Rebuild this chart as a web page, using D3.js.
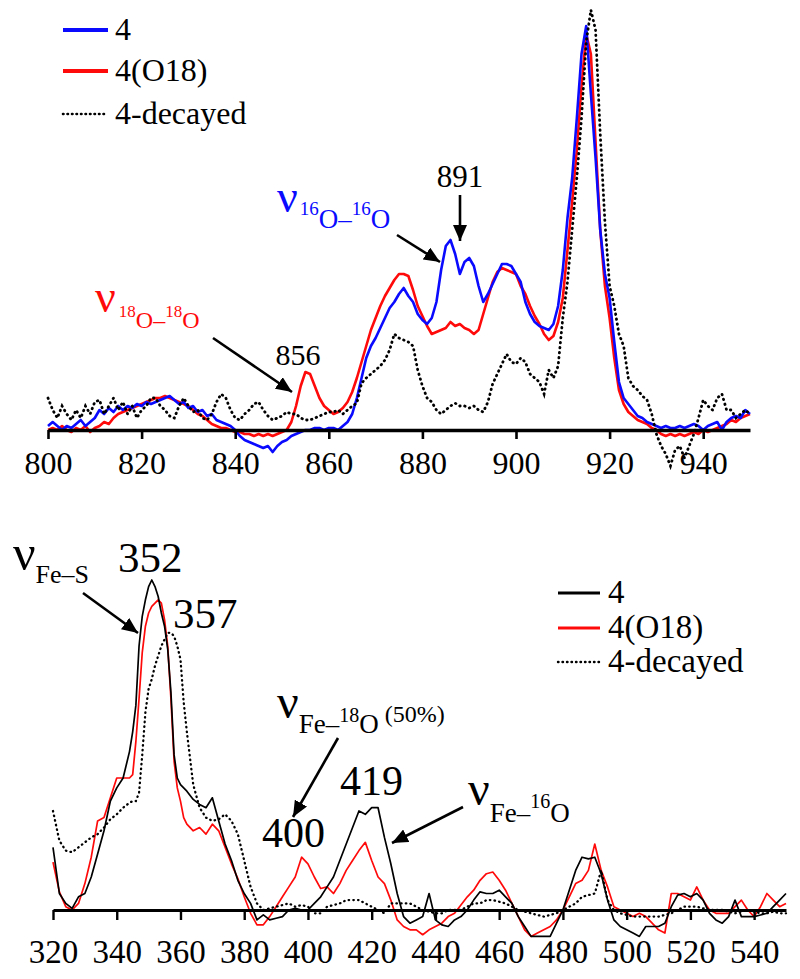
<!DOCTYPE html>
<html><head><meta charset="utf-8">
<script src="https://cdn.jsdelivr.net/npm/d3@7"></script>
<style>
body{margin:0;background:#fff}
svg{display:block}
svg text, svg tspan{font-family:"Liberation Serif","DejaVu Serif","Noto Serif","Times New Roman",serif !important;}
</style>
</head><body>
<svg id="c" width="800" height="979"></svg>
<script>
// ---------- DATA: top panel (O–O stretch region) ----------
const topShift = [800,801,802,803,804,805,806,807,808,809,810,811,812,813,814,815,816,817,818,819,
820,821,822,823,824,825,826,827,828,829,830,831,832,833,834,835,836,837,838,839,
840,841,842,843,844,845,846,847,848,849,850,851,852,853,854,855,856,857,858,859,
860,861,862,863,864,865,866,867,868,869,870,871,872,873,874,875,876,877,878,879,
880,881,882,883,884,885,886,887,888,889,890,891,892,893,894,895,896,897,898,899,
900,901,902,903,904,905,906,907,908,909,910,911,912,913,914,915,916,917,918,919,
920,921,922,923,924,925,926,927,928,929,930,931,932,933,934,935,936,937,938,939,
940,941,942,943,944,945,946,947,948,949,950];
const top4 = [1,2,1,0,1,0.5,1.5,2.5,1,2,
3,5,4,5.5,4.5,6,5,6,5.5,6.5,
6,7,6.5,7,7.5,8,8.5,7.5,6.5,7,
5.5,6,4.5,5,3.5,4,2.5,2,1.5,1,
0,-1.5,-2.5,-3,-3.5,-4,-4.5,-4,-5.5,-4,
-3,-2.5,-1.5,-1,-0.5,0,0,0.5,0.5,0,
0.5,0.5,0,1,2,4,8,13,18,21,
23,25.5,28,30.5,32,34,35.5,33.5,32,29,
27.5,26.5,28,32,40,46,47.5,44,39,42,
43,41,36,32,34,36.5,39,41.5,41.5,41,
39,37,32,29,27,26,25.5,25,26.5,31,
40,53,63,78,94,101,84,68,50,39,
33,22,12,8,6.5,5,3.5,3,2,1.5,
1,0.5,1,0.5,0.5,1,0.5,1,1.5,1,
0,1,1.5,2,0,2,3,3.5,3,5,
4];
const top4O18 = [0,0.5,0,1,0,-0.5,0.5,0,1,-0.5,
0.5,1,2,1.5,3,4,4.5,5,5.5,6,
6.5,7,7.5,8,8,8.5,8,7.5,7,6.5,
6,5,4,3.5,2.5,1.5,1,0.5,0.5,0,
-0.5,-0.5,-1,-1,-1.5,-1,-1.5,-1,-1.5,-1,
-0.5,0,2,6,11,14.5,14,11,8,6,
5,4,4.5,5.5,7,9.5,13,17,21,25,
28,31,33.5,35.5,37.5,39,39,38.5,35,31,
28.5,26,24,24.5,25,25.5,27,26,26.5,25.5,
25,24,25,29,33,37,39.5,40.5,40,39.5,
39,36,34,31,28.5,26.5,24,22.5,23.5,27,
33,45,57,70,86,99,94,72,50,36,
28,18,10,6.5,4.5,3.5,2.5,2,1.5,0.5,
0,-1,-1.5,-1,-1.5,-1,-1.5,-1,-0.5,-1,
0,-0.5,0,0.5,1,1.5,2.5,2,3,3.5,
4];
const top4Decayed = [8,5,3,6,4,2.5,5,3,6,4,
7,7.5,4,6,8,5,7,4,6,3,
5,6,8,8,6,5,3.5,3,6,8,
6,4.5,5,3,2.5,4,7,9,8,5,
3,2.5,4,5,6.5,7,5,3.5,2.5,3,
3.5,4.5,4,4,3,2.5,2.5,3,3.5,4,
4.5,4.5,5,4,5,6,6.7,11.7,13,14,
15,16,17.5,20,24,23,22.5,22,21,15,
11,8,7,5,4,5,6,6.7,6,6,
5.5,6,5,4.5,7,11.5,14,16.5,19,17,
16.5,18,17,14,13,12,9,15,13,16,
28,37,50,63,78,97,105,100,74,52,
36,31,24,21,13,11,10,8.5,7.5,4,
-1,-4,-6,-9,-5,-4,-7,-4,-1,3,
7.5,6,5,8,9,5,5,3,4,5,
4];
const topTicks = [800,820,840,860,880,900,920,940];

// ---------- DATA: bottom panel (Fe–S / Fe–O region) ----------
const botShift = [320,322,324,326,328,330,332,334,336,338,340,342,344,
345,346,347,348,349,350,351,352,353,354,355,356,357,358,359,360,361,362,
364,366,368,370,372,374,376,378,380,382,384,386,388,390,392,394,396,398,400,402,
404,406,408,410,412,414,416,418,420,422,424,426,428,430,432,434,436,438,440,442,
444,446,448,450,452,454,456,458,460,462,464,466,468,470,472,474,476,478,480,482,
484,486,488,490,492,494,496,498,500,502,504,506,508,510,512,514,516,518,520,522,
524,526,528,530,532,534,536,538,540,542,544,546,548,550];
const bot4 = [19,5,2,0.5,4,5,10,17,24,33,37,40,48,
54,62,80,89,94,98,100,98,95,90,86,79,66,47,40,38,37,36,
33.5,32,31,34,27,20,15,9,5,2,-3,-1.5,-3,-2.5,-2,0,0.5,0,0,2,
4,7,10,15,20,25,30,29,31,31,22,14,5,-2,-4,-3,-2,5,-3,-4.5,
-5,-3,-2,0,3,5.5,5,5,6,4,2,-2,-5,-8,-8,-8,-8,-4,0,6,
12,16,15.5,16,11,3,-3,-5,-6,-7,-8,-5,-5,-5,-4,1,4.5,5,4,5,
3,-1,-3,-4,-2,3,-2,-2,-2,-1.5,-1,1,3,5];
const bot4O18 = [14.5,5.5,1,0,2,8,16,27,28,34,40,40,40,
41,51,64,78,86,90,92,93,94,93,88,80,64,45,37,33,28,26,
24,25,23,26,24,19,14,9.5,4,-1,-4.5,-4.5,-2,1,4,7,10,16,14,10,
6.5,7,5,8,12,15,18,20.5,15,10,8,3,-3,-5,-6,-6,-7.5,-6,-5,-4,
-2,-1,1.5,4,6,9,11,11.5,9,6,2,-2,-6,-8,-7,-6,-5,-3,0,4,
8,9,12,20,12,7,1,0,-1,-2,-1,-2,-4,-6,-7,5,5,4,3,7,
3,0,-1,-1,-1,1,3,0,-2,1,5,3,1,2];
const bot4Decayed = [30,21,18,17.5,19,20.5,22,23,25,27.5,29,31,32.5,
33,33,35.5,47,60,67,70,74,77,80,82,84,84,83,80,76,63,54,
38,31,28,27,27.5,29,27,23,15,7,2,0,0.5,1,1.5,2,1,1.5,1,-1,
-1,1,1.5,2,3,3,3,2,1,0,-1,2,2,2,2,1,0,-0.5,-1,-1,
0,0,0,1,2,2,3,3,2.5,2,1,0,-0.5,-1,-1.5,-2,-1.5,-1,0,1,
2,4,4.5,5,12,3,0,-1,-1.5,-2,-2,-2,-2,-2,-1.5,-1,0,1,1,1,
0.5,0,0,0,-0.5,-1,-0.5,0,-0.5,-1,-1,-0.5,-1,-1];
const botTicks = [320,340,360,380,400,420,440,460,480,500,520,540];

const legendNames = ["4","4(O18)","4-decayed"];

// ---------- DRAW ----------
const SERIF = '"Liberation Serif","DejaVu Serif","Noto Serif","Times New Roman",serif';
const svg = d3.select("#c").attr("font-family", SERIF);
const RED = "#ff0a0a", BLUE = "#0a0aff";

const defs = svg.append("defs");
defs.append("marker").attr("id","ah").attr("markerUnits","userSpaceOnUse")
  .attr("markerWidth",18).attr("markerHeight",14).attr("refX",16).attr("refY",7)
  .attr("orient","auto")
  .append("path").attr("d","M0,0 L16,7 L0,14 Z").attr("fill","#000");

function txt(x,y,size,s){
  return svg.append("text").attr("x",x).attr("y",y).attr("font-size",size)
    .style("font-family",SERIF).text(s);
}
function arrow(x1,y1,x2,y2){
  svg.append("line").attr("x1",x1).attr("y1",y1).attr("x2",x2).attr("y2",y2)
    .attr("stroke","#000").attr("stroke-width",2.6).attr("marker-end","url(#ah)");
}
function label(x, y, color, parts){
  const t = svg.append("text").attr("x",x).attr("y",y).attr("fill",color).style("font-family",SERIF);
  parts.forEach(p=>{
    const s = t.append("tspan").attr("font-size",p.size).attr("y",p.y).text(p.t);
    if(p.dx) s.attr("dx",p.dx);
  });
  return t;
}

// Top panel
const xT = d3.scaleLinear().domain([800,950]).range([48,750]);
const yT = d3.scaleLinear().domain([0,100]).range([430,30]);
const lineT = (ys)=>d3.line().x((d,i)=>xT(topShift[i])).y(d=>yT(d))(ys);

svg.append("path").attr("d",lineT(top4O18)).attr("fill","none").attr("stroke",RED).attr("stroke-width",2.6).attr("stroke-linejoin","round");
svg.append("path").attr("d",lineT(top4)).attr("fill","none").attr("stroke",BLUE).attr("stroke-width",2.6).attr("stroke-linejoin","round");
svg.append("path").attr("d",lineT(top4Decayed)).attr("fill","none").attr("stroke","#000").attr("stroke-width",2.8)
  .attr("stroke-dasharray","0.5,4.5").attr("stroke-linecap","round");

const axT = svg.append("g").attr("transform","translate(0,430)")
  .call(d3.axisBottom(xT).tickValues(topTicks).tickSize(9).tickSizeOuter(0).tickFormat(d3.format("d")));
axT.attr("font-family",SERIF);
axT.select(".domain").attr("stroke","#000").attr("stroke-width",3.5);
axT.selectAll(".tick line").attr("stroke","#000").attr("stroke-width",2.6);
axT.selectAll(".tick text").attr("y",44).attr("dy",0).attr("font-size",32)
  .style("font-family",SERIF).attr("fill","#000");

// Top legend
const legT = [{c:BLUE,dash:null,y:30},{c:RED,dash:null,y:71},{c:"#000",dash:"0.5,4",y:114}];
legT.forEach((l,i)=>{
  const ln = svg.append("line").attr("x1",63).attr("x2",108).attr("y1",l.y).attr("y2",l.y)
    .attr("stroke",l.c).attr("stroke-width",l.dash?2.6:4);
  if(l.dash) ln.attr("stroke-dasharray",l.dash).attr("stroke-linecap","round");
  txt(115,l.y+10,32,legendNames[i]);
});

// Top annotations
label(95,312,RED,[{t:"ν",size:46,y:312},{t:"18",size:17,y:317,dx:3},{t:"O",size:24,y:328},{t:"–",size:24,y:328},{t:"18",size:17,y:317},{t:"O",size:24,y:328}]);
arrow(213,338,292,392);
txt(298,365,30,"856").attr("text-anchor","middle");

label(277,212,BLUE,[{t:"ν",size:46,y:212},{t:"16",size:19,y:215,dx:2},{t:"O",size:27,y:228},{t:"–",size:27,y:228},{t:"16",size:19,y:215},{t:"O",size:27,y:228}]);
arrow(397,235,440,262);
txt(460,187,31,"891").attr("text-anchor","middle");
arrow(460,195,460,241);

// Bottom panel
const xB = d3.scaleLinear().domain([320,550]).range([53,786]);
const yB = d3.scaleLinear().domain([0,100]).range([910,580]);
const lineB = (ys)=>d3.line().x((d,i)=>xB(botShift[i])).y(d=>yB(d))(ys);

svg.append("path").attr("d",lineB(bot4O18)).attr("fill","none").attr("stroke",RED).attr("stroke-width",1.7).attr("stroke-linejoin","round");
svg.append("path").attr("d",lineB(bot4)).attr("fill","none").attr("stroke","#000").attr("stroke-width",1.7).attr("stroke-linejoin","round");
svg.append("path").attr("d",lineB(bot4Decayed)).attr("fill","none").attr("stroke","#000").attr("stroke-width",2.3)
  .attr("stroke-dasharray","0.5,4.2").attr("stroke-linecap","round");

const axB = svg.append("g").attr("transform","translate(0,910)")
  .call(d3.axisBottom(xB).tickValues(botTicks).tickSize(10).tickSizeOuter(0).tickFormat(d3.format("d")));
axB.attr("font-family",SERIF);
axB.select(".domain").attr("stroke","#000").attr("stroke-width",3.2);
axB.selectAll(".tick line").attr("stroke","#000").attr("stroke-width",2.4);
axB.selectAll(".tick text").attr("y",53).attr("dy",0).attr("font-size",33)
  .style("font-family",SERIF).attr("fill","#000");

// Bottom legend
const legB = [{c:"#000",dash:null,y:593},{c:RED,dash:null,y:628},{c:"#000",dash:"0.5,4",y:662}];
legB.forEach((l,i)=>{
  const ln = svg.append("line").attr("x1",558).attr("x2",600).attr("y1",l.y).attr("y2",l.y)
    .attr("stroke",l.c).attr("stroke-width",l.dash?2.4:3.2);
  if(l.dash) ln.attr("stroke-dasharray",l.dash).attr("stroke-linecap","round");
  txt(608,l.y+10,33,legendNames[i]);
});

// Bottom annotations
label(13,570,"#000",[{t:"ν",size:50,y:570},{t:"Fe–S",size:26,y:583}]);
txt(118,572,43,"352");
txt(173,628,43,"357");
arrow(83,593,138,633);

label(277,718,"#000",[{t:"ν",size:48,y:718},{t:"Fe–",size:27,y:733},{t:"18",size:20,y:722},{t:"O",size:27,y:733},{t:" (50%)",size:24,y:722}]);
arrow(338,738,293,817);
txt(262,847,42,"400");
txt(340,795,42,"419");

label(468,805,"#000",[{t:"ν",size:48,y:805},{t:"Fe–",size:27,y:822},{t:"16",size:20,y:808},{t:"O",size:27,y:822}]);
arrow(463,807,392,843);
</script>
</body></html>
